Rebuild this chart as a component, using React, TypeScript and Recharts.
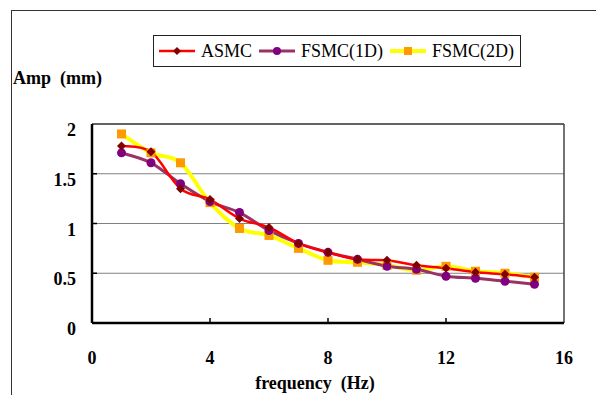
import React from "react";
import {
  LineChart,
  Line,
  XAxis,
  YAxis,
  CartesianGrid,
  Legend,
  ReferenceLine,
} from "recharts";

const frequency = [1, 2, 3, 4, 5, 6, 7, 8, 9, 10, 11, 12, 13, 14, 15];
const asmc = [1.78, 1.72, 1.35, 1.24, 1.05, 0.96, 0.8, 0.71, 0.64, 0.63, 0.58, 0.55, 0.51, 0.49, 0.46];
const fsmc1D = [1.71, 1.61, 1.4, 1.22, 1.11, 0.93, 0.8, 0.71, 0.64, 0.57, 0.54, 0.47, 0.45, 0.42, 0.39];
const fsmc2D = [1.9, 1.71, 1.61, 1.21, 0.95, 0.88, 0.75, 0.63, 0.61, 0.58, 0.53, 0.57, 0.52, 0.5, 0.46];
const xTicks = [0, 4, 8, 12, 16];
const yTicks = [0, 0.5, 1, 1.5, 2];

const data = frequency.map((f, i) => ({
  f,
  asmc: asmc[i],
  fsmc1: fsmc1D[i],
  fsmc2: fsmc2D[i],
}));

const serif = "'Liberation Serif', 'Times New Roman', serif";

// excel-like smoothed line
function smoothCurve(context: any) {
  let pts: number[][] = [];
  return {
    areaStart() {},
    areaEnd() {},
    lineStart() {
      pts = [];
    },
    point(x: number, y: number) {
      pts.push([+x, +y]);
    },
    lineEnd() {
      if (!pts.length) return;
      context.moveTo(pts[0][0], pts[0][1]);
      for (let i = 0; i < pts.length - 1; i++) {
        const p0 = pts[i - 1] || pts[i];
        const p1 = pts[i];
        const p2 = pts[i + 1];
        const p3 = pts[i + 2] || p2;
        context.bezierCurveTo(
          p1[0] + (p2[0] - p0[0]) / 6,
          p1[1] + (p2[1] - p0[1]) / 6,
          p2[0] - (p3[0] - p1[0]) / 6,
          p2[1] - (p3[1] - p1[1]) / 6,
          p2[0],
          p2[1]
        );
      }
    },
  };
}

const Diamond = (props: any) => {
  const { cx, cy, key } = props;
  const s = 4.5;
  return (
    <path
      key={key}
      d={`M${cx},${cy - s}L${cx + s},${cy}L${cx},${cy + s}L${cx - s},${cy}Z`}
      fill="#800000"
    />
  );
};

const Circle = (props: any) => {
  const { cx, cy, key } = props;
  return <circle key={key} cx={cx} cy={cy} r={4.5} fill="#800080" />;
};

const Square = (props: any) => {
  const { cx, cy, key } = props;
  return <rect key={key} x={cx - 4.5} y={cy - 4.5} width={9} height={9} fill="#FF9900" />;
};

const XTick = (props: any) => {
  const { x, y, payload } = props;
  return (
    <g>
      {payload.value > 0 && payload.value < 16 && (
        <line x1={x} y1={y} x2={x} y2={y - 5} stroke="#000" strokeWidth={1.5} />
      )}
      <text
        x={x}
        y={y + 41}
        textAnchor="middle"
        fontFamily={serif}
        fontWeight="bold"
        fontSize={18}
        fill="#000"
      >
        {payload.value}
      </text>
    </g>
  );
};

const YTick = (props: any) => {
  const { x, y, payload } = props;
  return (
    <g>
      {payload.value > 0 && payload.value < 2 && (
        <line x1={x} y1={y} x2={x + 5} y2={y} stroke="#000" strokeWidth={1.5} />
      )}
      <text
        x={x - 16}
        y={y + 12}
        textAnchor="end"
        fontFamily={serif}
        fontWeight="bold"
        fontSize={18}
        fill="#000"
      >
        {payload.value}
      </text>
    </g>
  );
};

const legendItems = [
  { name: "ASMC", line: "#FF0000", width: 2.5, mark: "diamond" },
  { name: "FSMC(1D)", line: "#993366", width: 3, mark: "circle" },
  { name: "FSMC(2D)", line: "#FFFF00", width: 4, mark: "square" },
];

const LegendBox = () => (
  <div
    style={{
      width: 368,
      height: 32,
      border: "1px solid #222",
      display: "flex",
      alignItems: "center",
      boxSizing: "border-box",
      paddingLeft: 4,
      fontFamily: serif,
      fontSize: 18,
      color: "#000",
    }}
  >
    {legendItems.map((it) => (
      <div key={it.name} style={{ display: "flex", alignItems: "center", marginRight: 6 }}>
        <svg width={38} height={12}>
          <line x1={1} y1={6} x2={37} y2={6} stroke={it.line} strokeWidth={it.width} />
          {it.mark === "diamond" && <path d="M19,2L23,6L19,10L15,6Z" fill="#800000" />}
          {it.mark === "circle" && <circle cx={19} cy={6} r={4} fill="#800080" />}
          {it.mark === "square" && <rect x={15} y={2} width={8} height={8} fill="#FF9900" />}
        </svg>
        <span style={{ marginLeft: 5 }}>{it.name}</span>
      </div>
    ))}
  </div>
);

export default function App() {
  return (
    <div style={{ position: "absolute", left: 0, top: 0, width: 596, height: 395, background: "#fff" }}>
      <div
        style={{
          position: "absolute",
          left: 11,
          top: 10,
          width: 585,
          height: 385,
          borderLeft: "1.5px solid #333",
          borderTop: "1.5px solid #333",
        }}
      />
      <div
        style={{
          position: "absolute",
          left: 13,
          top: 68,
          fontFamily: serif,
          fontWeight: "bold",
          fontSize: 18,
          whiteSpace: "pre",
        }}
      >
        {"Amp  (mm)"}
      </div>
      <div
        style={{
          position: "absolute",
          left: 0,
          top: 373,
          width: 630,
          textAlign: "center",
          fontFamily: serif,
          fontWeight: "bold",
          fontSize: 18,
          whiteSpace: "pre",
        }}
      >
        {"frequency  (Hz)"}
      </div>
      <LineChart
        width={596}
        height={395}
        data={data}
        margin={{ top: 124, right: 32, bottom: 32, left: 0 }}
        style={{ position: "absolute", left: 0, top: 0 }}
      >
        <CartesianGrid horizontal vertical={false} stroke="#808080" strokeWidth={1} />
        <ReferenceLine y={2} stroke="#444" strokeWidth={1.5} />
        <ReferenceLine x={16} stroke="#444" strokeWidth={1.5} />
        <XAxis
          dataKey="f"
          type="number"
          domain={[0, 16]}
          ticks={xTicks}
          interval={0}
          height={40}
          tickLine={false}
          tickSize={0}
          tickMargin={0}
          axisLine={{ stroke: "#000", strokeWidth: 2.5 }}
          tick={<XTick />}
        />
        <YAxis
          type="number"
          domain={[0, 2]}
          ticks={yTicks}
          interval={0}
          width={92}
          tickLine={false}
          tickSize={0}
          tickMargin={0}
          axisLine={{ stroke: "#000", strokeWidth: 2.5 }}
          tick={<YTick />}
        />
        <Legend
          verticalAlign="middle"
          layout="horizontal"
          wrapperStyle={{ position: "absolute", left: 153, top: 35, width: 370 }}
          content={() => <LegendBox />}
        />
        <Line
          dataKey="fsmc2"
          name="FSMC(2D)"
          type={smoothCurve as any}
          stroke="#FFFF00"
          strokeWidth={4}
          dot={Square}
          activeDot={false}
          isAnimationActive={false}
        />
        <Line
          dataKey="fsmc1"
          name="FSMC(1D)"
          type={smoothCurve as any}
          stroke="#993366"
          strokeWidth={3}
          dot={Circle}
          activeDot={false}
          isAnimationActive={false}
        />
        <Line
          dataKey="asmc"
          name="ASMC"
          type={smoothCurve as any}
          stroke="#FF0000"
          strokeWidth={2.5}
          dot={Diamond}
          activeDot={false}
          isAnimationActive={false}
        />
      </LineChart>
    </div>
  );
}
